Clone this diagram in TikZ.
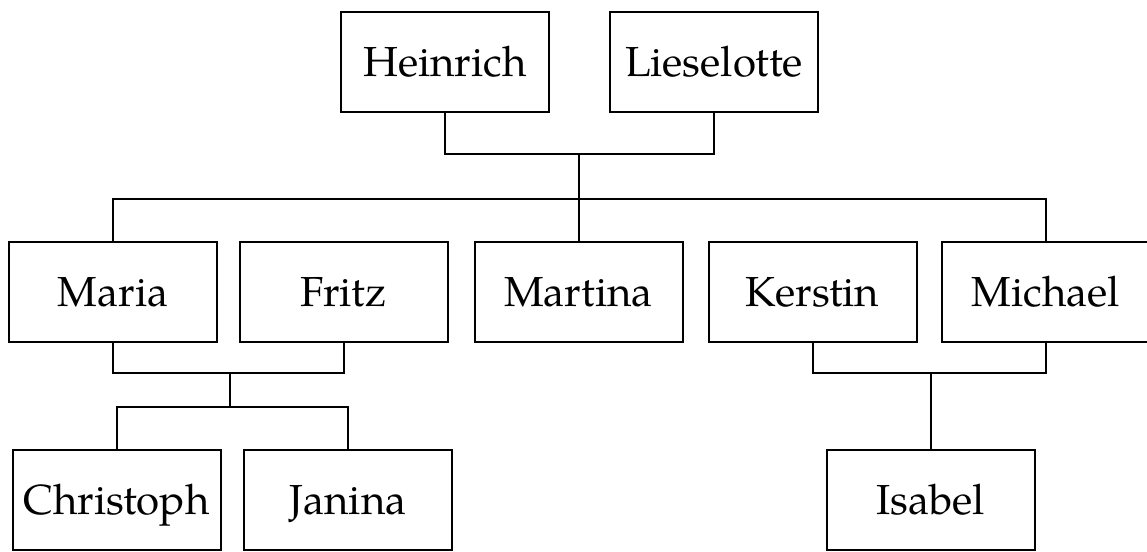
\documentclass[tikz,border=0pt]{standalone}
\usepackage{fontspec}
\setmainfont{TeX Gyre Pagella}
\begin{document}
\begin{tikzpicture}[x=0.5pt,y=-0.5pt,
  person/.style={draw, line width=1pt, minimum width=104pt, minimum height=50pt,
    inner sep=0pt, font=\fontsize{21}{25}\selectfont, text height=14.5pt, text depth=0pt},
  link/.style={line width=1pt}]
\useasboundingbox (0,0) rectangle (1147,552);
% generation 1
\node[person] (Heinrich) at (445,61.5) {Heinrich};
\node[person] (Lieselotte) at (714,61.5) {Lieselotte};
% generation 2
\node[person] (Maria) at (113,292.3) {Maria};
\node[person] (Fritz) at (343.5,292.3) {Fritz};
\node[person] (Martina) at (578.5,292.3) {Martina};
\node[person] (Kerstin) at (812.5,292.3) {Kerstin};
\node[person] (Michael) at (1046,292.3) {Michael};
% generation 3
\node[person] (Christoph) at (116.5,500) {Christoph};
\node[person] (Janina) at (348,500) {Janina};
\node[person] (Isabel) at (930.5,500) {Isabel};
% junctions
\coordinate (j1) at (578.5,153.7);
\coordinate (b1) at (578.5,199.3);
\coordinate (j2) at (230,373.3);
\coordinate (b2) at (230,407.3);
\coordinate (j3) at (930.5,373.3);
% connectors
\draw[link] (Heinrich.south) |- (j1) -| (Lieselotte.south);
\draw[link] (j1) -- (Martina.north);
\draw[link] (Maria.north) |- (b1) -| (Michael.north);
\draw[link] (Maria.south) |- (j2) -| (Fritz.south);
\draw[link] (j2) -- (b2);
\draw[link] (Christoph.north) |- (b2) -| (Janina.north);
\draw[link] (Kerstin.south) |- (j3) -| (Michael.south);
\draw[link] (j3) -- (Isabel.north);
\end{tikzpicture}
\end{document}
